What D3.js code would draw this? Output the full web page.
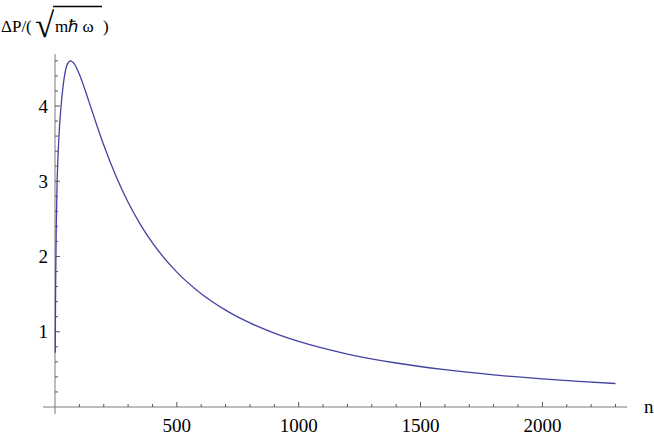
<!DOCTYPE html>
<html><head><meta charset="utf-8">
<script src="https://cdn.jsdelivr.net/npm/d3@7"></script>
<style>
html,body{margin:0;padding:0;background:#fff;}
svg{display:block;}
text{font-family:"Liberation Serif","Times New Roman",serif;fill:#000;}
</style></head>
<body>
<svg id="chart" width="654" height="436"></svg>
<script>
// Data (smoothed estimates)
const nValues = [1, 2, 3, 5, 8, 12, 18, 27, 38, 50, 64, 80, 100, 125, 150, 175, 200, 250, 300, 350, 400, 500, 600, 700, 800, 900, 1000, 1200, 1400, 1600, 1800, 2000, 2150, 2300];
const dpValues = [0.72, 1.3, 1.75, 2.35, 2.9, 3.3, 3.7, 4.07, 4.38, 4.55, 4.60, 4.556, 4.421, 4.197, 3.953, 3.712, 3.482, 3.069, 2.720, 2.427, 2.180, 1.7925, 1.5057, 1.2875, 1.117, 0.9815, 0.8712, 0.7041, 0.5848, 0.4959, 0.4277, 0.3739, 0.3407, 0.312];
const xMajorTicks = [500, 1000, 1500, 2000];
const yMajorTicks = [1, 2, 3, 4];
const xMinorTicks = [100, 200, 300, 400, 600, 700, 800, 900, 1100, 1200, 1300, 1400, 1600, 1700, 1800, 1900, 2100, 2200, 2300];
const yMinorTicks = [0.2, 0.4, 0.6, 0.8, 1.2, 1.4, 1.6, 1.8, 2.2, 2.4, 2.6, 2.8, 3.2, 3.4, 3.6, 3.8, 4.2, 4.4, 4.6];

const svg = d3.select("#chart");
const x = d3.scaleLinear().domain([0, 2300]).range([55, 615.5]);
const y = d3.scaleLinear().domain([0, 4]).range([407, 106]);

const axisColor = "#7a7a7a";
const tickColor = "#555";

// x axis line
svg.append("line").attr("x1", x(-49)).attr("x2", x(2348))
  .attr("y1", y(0)).attr("y2", y(0)).attr("stroke", axisColor).attr("stroke-width", 1);
// y axis line
svg.append("line").attr("x1", x(0)).attr("x2", x(0))
  .attr("y1", y(-0.093)).attr("y2", y(4.69)).attr("stroke", axisColor).attr("stroke-width", 1);

// x ticks (pointing up, inside)
const xAxisG = svg.append("g");
xAxisG.selectAll("line.maj").data(xMajorTicks).join("line").attr("class", "maj")
  .attr("x1", d => x(d)).attr("x2", d => x(d))
  .attr("y1", y(0)).attr("y2", y(0) - 5).attr("stroke", tickColor);
xAxisG.selectAll("line.min").data(xMinorTicks).join("line").attr("class", "min")
  .attr("x1", d => x(d)).attr("x2", d => x(d))
  .attr("y1", y(0)).attr("y2", y(0) - 3).attr("stroke", tickColor);
xAxisG.selectAll("text").data(xMajorTicks).join("text")
  .attr("x", d => x(d)).attr("y", 432).attr("text-anchor", "middle")
  .attr("font-size", 19).text(d => d);

// y ticks (pointing right, inside)
const yAxisG = svg.append("g");
yAxisG.selectAll("line.maj").data(yMajorTicks).join("line").attr("class", "maj")
  .attr("x1", x(0)).attr("x2", x(0) + 5)
  .attr("y1", d => y(d)).attr("y2", d => y(d)).attr("stroke", tickColor);
yAxisG.selectAll("line.min").data(yMinorTicks).join("line").attr("class", "min")
  .attr("x1", x(0)).attr("x2", x(0) + 3)
  .attr("y1", d => y(d)).attr("y2", d => y(d)).attr("stroke", tickColor);
yAxisG.selectAll("text").data(yMajorTicks).join("text")
  .attr("x", x(0) - 7).attr("y", d => y(d) + 6.5).attr("text-anchor", "end")
  .attr("font-size", 19).text(d => d);

// curve
const data = nValues.map((n, i) => ({n, v: dpValues[i]}));
svg.append("path").datum(data)
  .attr("fill", "none").attr("stroke", "#4242a2").attr("stroke-width", 1.3)
  .attr("d", d3.line().x(d => x(d.n)).y(d => y(d.v)).curve(d3.curveMonotoneX));

// axis labels
svg.append("text").attr("x", 644).attr("y", 413).attr("font-size", 19).text("n");

const yl = svg.append("g");
yl.append("text").attr("x", 1).attr("y", 32).attr("font-size", 17).text("ΔP/(");
yl.append("text").attr("x", 35).attr("y", 37).attr("font-size", 35).text("√");
yl.append("line").attr("x1", 53).attr("x2", 102).attr("y1", 6.5).attr("y2", 6.5)
  .attr("stroke", "#000").attr("stroke-width", 1.3);
yl.append("text").attr("x", 55).attr("y", 32).attr("font-size", 17).attr("xml:space", "preserve").text("mℏ ω");
yl.append("text").attr("x", 103).attr("y", 32).attr("font-size", 17).text(")");
</script>
</body></html>
